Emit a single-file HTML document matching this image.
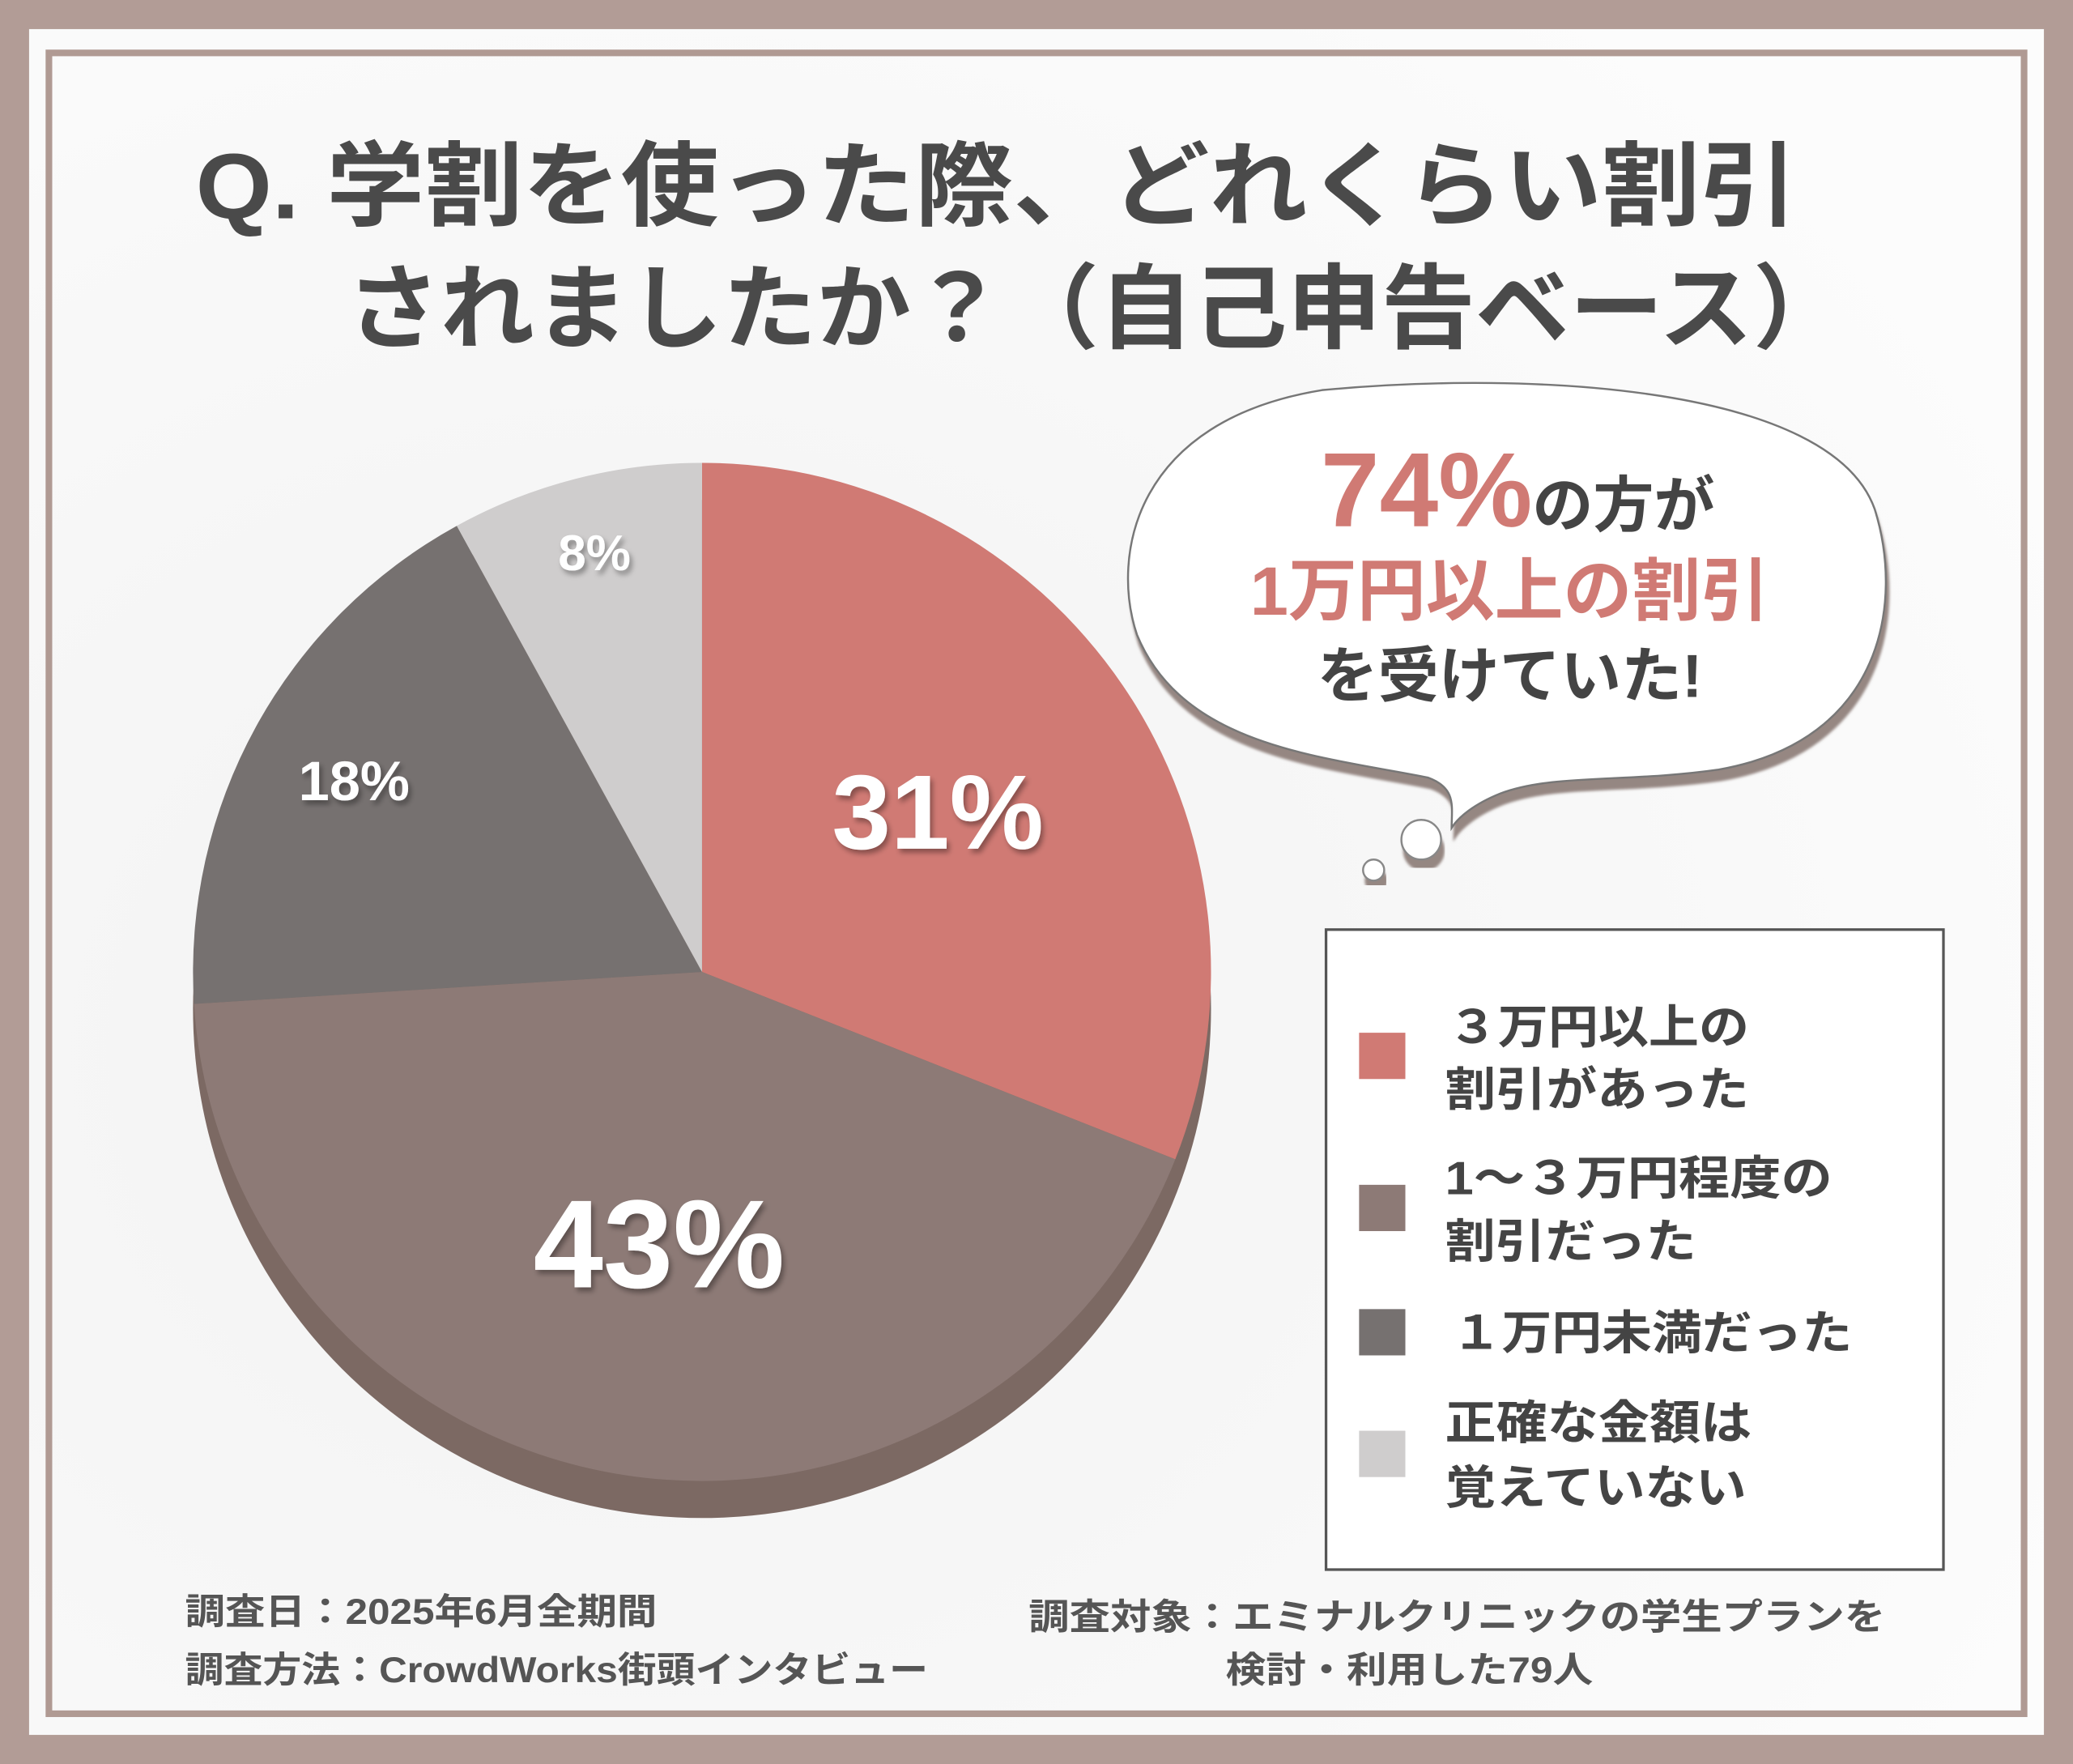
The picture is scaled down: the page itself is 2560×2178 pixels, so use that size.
<!DOCTYPE html>
<html><head><meta charset="utf-8">
<style>
html,body{margin:0;padding:0;background:#b29c96;}
svg{display:block;}
text{font-family:"Liberation Sans","Noto Sans CJK JP",sans-serif;font-weight:bold;}
</style></head>
<body>
<svg id="chart" width="2560" height="2178" viewBox="0 0 1568 1334" xmlns="http://www.w3.org/2000/svg">
<defs>
<filter id="sh" x="-20%" y="-20%" width="140%" height="140%"><feDropShadow dx="2" dy="3" stdDeviation="2" flood-color="#000" flood-opacity="0.35"/></filter>
<filter id="bsh" x="-10%" y="-10%" width="120%" height="130%"><feDropShadow dx="2" dy="8" stdDeviation="1" flood-color="#8a7a76" flood-opacity="0.9"/></filter>
<radialGradient id="bg" cx="0.3" cy="0.6" r="0.8"><stop offset="0" stop-color="#f2f2f2"/><stop offset="1" stop-color="#fcfcfc"/></radialGradient>
</defs>
<rect x="0" y="0" width="1568" height="1334" fill="#b29c96"/>
<rect x="22" y="22" width="1524" height="1290" fill="url(#bg)"/>
<rect x="37" y="40" width="1494" height="1256" fill="none" stroke="#b09a93" stroke-width="5"/>

<text x="148" y="165" font-size="70" fill="#4a4a4a" textLength="1212" lengthAdjust="spacingAndGlyphs">Q. 学割を使った際、どれくらい割引</text>
<text x="262" y="258" font-size="70" fill="#4a4a4a" textLength="1135" lengthAdjust="spacingAndGlyphs">されましたか？（自己申告ベース）</text>

<g id="pie"></g>

<g>
<path filter="url(#bsh)" d="M1000 295 C1160 280 1385 292 1418 385 C1440 455 1425 560 1300 582 C1230 592 1175 585 1135 600 C1115 608 1103 618 1098 626 C1098 610 1102 596 1080 588 C1000 572 895 565 860 480 C840 420 858 318 1000 295 Z" fill="#fff" stroke="#777" stroke-width="1.5"/>
<circle cx="1075" cy="635" r="15" fill="#fff" stroke="#888" stroke-width="1.5" filter="url(#bsh)"/>
<circle cx="1039" cy="658" r="8" fill="#fff" stroke="#888" stroke-width="1.5" filter="url(#bsh)"/>
<text x="1148" y="398" text-anchor="middle"><tspan font-size="80" fill="#d07a74">74%</tspan><tspan font-size="46" fill="#444">の方が</tspan></text>
<text x="1142" y="465" text-anchor="middle" font-size="52" fill="#d07a74">1万円以上の割引</text>
<text x="1142" y="527" text-anchor="middle" font-size="46" fill="#444">を受けていた!</text>
</g>

<g>
<rect x="1003" y="703" width="467" height="484" fill="#fff" stroke="#555" stroke-width="2"/>
<rect x="1028" y="781" width="35" height="35" fill="#d07a74"/>
<text font-size="35" fill="#444"><tspan x="1095" y="789" textLength="228" lengthAdjust="spacingAndGlyphs">３万円以上の</tspan><tspan x="1093" y="836" textLength="230" lengthAdjust="spacingAndGlyphs">割引があった</tspan></text>
<rect x="1028" y="896" width="35" height="35" fill="#8d7a76"/>
<text font-size="35" fill="#444"><tspan x="1093" y="903" textLength="293" lengthAdjust="spacingAndGlyphs">1～３万円程度の</tspan><tspan x="1093" y="951" textLength="190" lengthAdjust="spacingAndGlyphs">割引だった</tspan></text>
<rect x="1028" y="990" width="35" height="35" fill="#767170"/>
<text x="1098" y="1020" font-size="35" fill="#444" textLength="303" lengthAdjust="spacingAndGlyphs">１万円未満だった</text>
<rect x="1028" y="1082" width="35" height="35" fill="#cfcdcd"/>
<text font-size="35" fill="#444"><tspan x="1093" y="1088" textLength="232" lengthAdjust="spacingAndGlyphs">正確な金額は</tspan><tspan x="1093" y="1137" textLength="228" lengthAdjust="spacingAndGlyphs">覚えていない</tspan></text>
</g>

<text x="140" y="1228" font-size="27" fill="#555" textLength="357" lengthAdjust="spacingAndGlyphs">調査日：2025年6月全期間</text>
<text x="140" y="1272" font-size="27" fill="#555" textLength="562" lengthAdjust="spacingAndGlyphs">調査方法：CrowdWorks街頭インタビュー</text>
<text x="778" y="1232" font-size="27" fill="#555" textLength="648" lengthAdjust="spacingAndGlyphs">調査対象：エミナルクリニックの学生プランを</text>
<text x="927" y="1272" font-size="27" fill="#555" textLength="278" lengthAdjust="spacingAndGlyphs">検討・利用した79人</text>
</svg>
<script>
const categories = ["3万円以上", "1～3万円程度", "1万円未満", "覚えていない"];
const values = [31, 43, 18, 8];
const colors = ["#d07a74", "#8d7a76", "#767170", "#cfcdcd"];
const labelTxt = ["31%", "43%", "18%", "8%"];
const NS = "http://www.w3.org/2000/svg";
const g = document.getElementById("pie");
const cx = 531, cy = 735, r = 385;
const total = values.reduce((a, b) => a + b, 0);
const side = document.createElementNS(NS, "circle");
side.setAttribute("cx", cx); side.setAttribute("cy", cy + 28); side.setAttribute("r", r);
side.setAttribute("fill", "#7c6963");


g.appendChild(side);
function pt(a, rr) { return [cx + rr * Math.sin(a), cy - rr * Math.cos(a)]; }
let acc = 0;
const labelR = [0.56, 0.54, 0.78, 0.85];
const labelSize = [80, 95, 42, 38];
values.forEach((v, i) => {
  const a0 = acc / total * 2 * Math.PI; acc += v;
  const a1 = acc / total * 2 * Math.PI;
  const p0 = pt(a0, r), p1 = pt(a1, r);
  const large = (a1 - a0) > Math.PI ? 1 : 0;
  const path = document.createElementNS(NS, "path");
  path.setAttribute("d", `M${cx} ${cy} L${p0[0]} ${p0[1]} A${r} ${r} 0 ${large} 1 ${p1[0]} ${p1[1]} Z`);
  path.setAttribute("fill", colors[i]);
  
  
  g.appendChild(path);
});
acc = 0;
values.forEach((v, i) => {
  const am = (acc + v / 2) / total * 2 * Math.PI; acc += v;
  const p = pt(am, r * labelR[i]);
  const t = document.createElementNS(NS, "text");
  t.setAttribute("x", p[0]); t.setAttribute("y", p[1] + labelSize[i] * 0.35);
  t.setAttribute("text-anchor", "middle");
  t.setAttribute("font-size", labelSize[i]);
  t.setAttribute("fill", "#fff");
  t.setAttribute("filter", "url(#sh)");
  t.textContent = labelTxt[i];
  
  
  g.appendChild(t);
});
</script>
</body></html>
